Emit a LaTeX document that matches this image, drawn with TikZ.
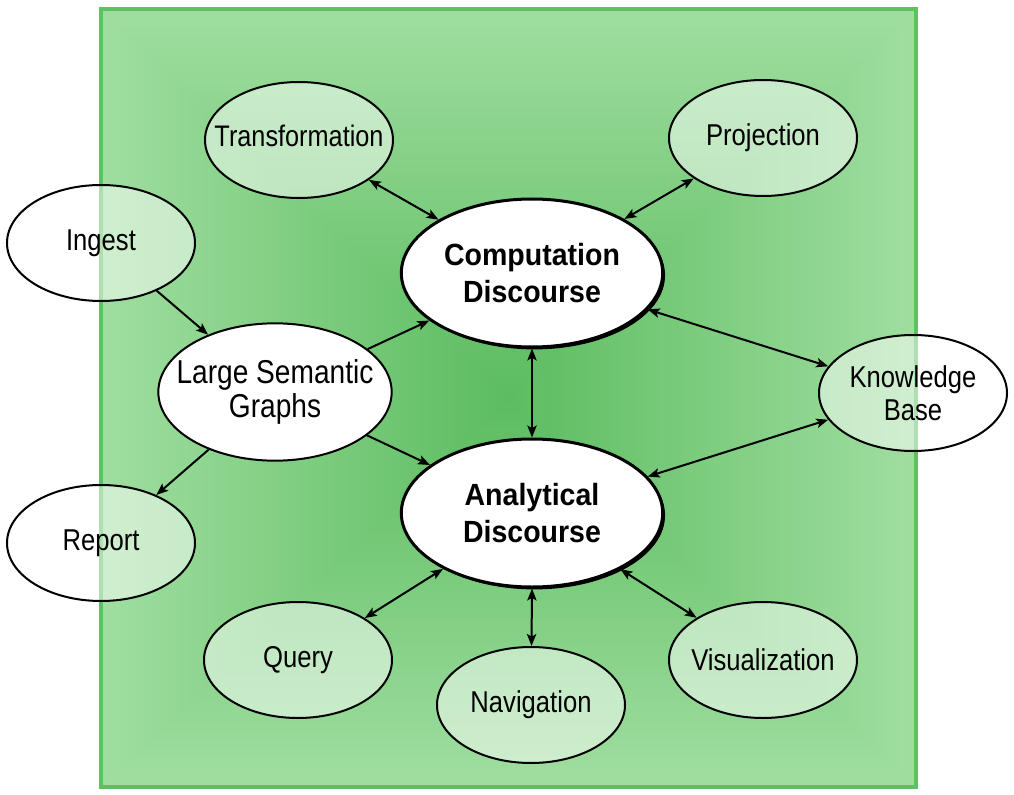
\documentclass[tikz,border=0pt]{standalone}
\usepackage{fontspec}
\setmainfont{Liberation Sans}[FakeStretch=0.85, BoldFeatures={FakeStretch=0.93}]
\usepackage{tikz}
\usetikzlibrary{arrows.meta, positioning, shapes.geometric, shadows}
\definecolor{edgegreen}{RGB}{160,222,160}
\definecolor{midgreen}{RGB}{92,188,96}
\definecolor{framegreen}{RGB}{95,192,96}

\begin{document}
\begin{tikzpicture}[x=0.75pt, y=-0.75pt,
		font=\fontsize{22.6}{25}\selectfont,
		bub/.style={ellipse, draw, line width=1.5pt, inner sep=0pt, minimum width=141pt, minimum height=87pt},
		pale/.style={bub, fill=white, fill opacity=0.5},
		hub/.style={ellipse, draw, line width=2.25pt, fill=white, inner sep=0pt, minimum width=196pt, minimum height=111pt,
			drop shadow={shadow xshift=1.8pt, shadow yshift=-1.8pt, opacity=1, fill=black}},
		bold/.style={align=center, font=\fontsize{23}{28}\selectfont\bfseries},
		con/.style={line width=1.5pt, -{Stealth[length=9pt, width=7pt, inset=2pt]}},
		bicon/.style={con, {Stealth[length=9pt, width=7pt, inset=2pt]}-{Stealth[length=9pt, width=7pt, inset=2pt]}}]
		\useasboundingbox (0,0) rectangle (1014,795);
		
		% green square, shaded from the middle out
		\coordinate (mid) at (508,398);
		\shade [inner color=midgreen, outer color=edgegreen] (101,9) rectangle (916,787);
		\shade [top color=edgegreen, bottom color=midgreen] (101,9) -- (916,9) -- (mid) -- cycle;
		\shade [left color=midgreen, right color=edgegreen] (916,9) -- (916,787) -- (mid) -- cycle;
		\shade [top color=midgreen, bottom color=edgegreen] (101,787) -- (916,787) -- (mid) -- cycle;
		\shade [left color=edgegreen, right color=midgreen] (101,9) -- (101,787) -- (mid) -- cycle;
		\draw [framegreen, line width=3pt] (101,9) rectangle (916,787);
		
		% nodes
		\node [hub, label={[bold]center:Computation\\Discourse}] (comp) at (532,273) {};
		\node [hub, label={[bold]center:Analytical\\Discourse}] (anal) at (532,513) {};
		\node [bub, fill=white, minimum width=175pt, minimum height=103pt,
			label={[align=center, font=\fontsize{24.8}{25}\selectfont]center:Large Semantic\\Graphs}] (lsg) at (275,392) {};
		\node [pale, label=center:Ingest] (ingest) at (101,243) {};
		\node [pale, label=center:Report] (report) at (101,543) {};
		\node [pale, label={[align=center]center:Knowledge\\Base}] (kb) at (913,393) {};
		\node [pale, label={[font=\fontsize{22.3}{25}\selectfont, yshift=3pt]center:Transformation}] (trans) at (299,140) {};
		\node [pale, label=center:Projection] (proj) at (763,138) {};
		\node [pale, label=center:Query] (query) at (298,660) {};
		\node [pale, label=center:Navigation] (nav) at (531,705) {};
		\node [pale, label=center:Visualization] (vis) at (763,660) {};
		
		% connectors
		\draw [con] (ingest) -- (lsg);
		\draw [con] (lsg) -- (report);
		\draw [con] (lsg) -- (comp);
		\draw [con] (lsg) -- (anal);
		\draw [bicon] (trans) -- (comp);
		\draw [bicon] (proj) -- (comp);
		\draw [bicon] (comp) -- (anal);
		\draw [bicon] (comp) -- (kb);
		\draw [bicon] (anal) -- (kb);
		\draw [bicon] (anal) -- (query);
		\draw [bicon] (anal.south) -- (nav);
		\draw [bicon] (anal) -- (vis);
	\end{tikzpicture}
\end{document}
